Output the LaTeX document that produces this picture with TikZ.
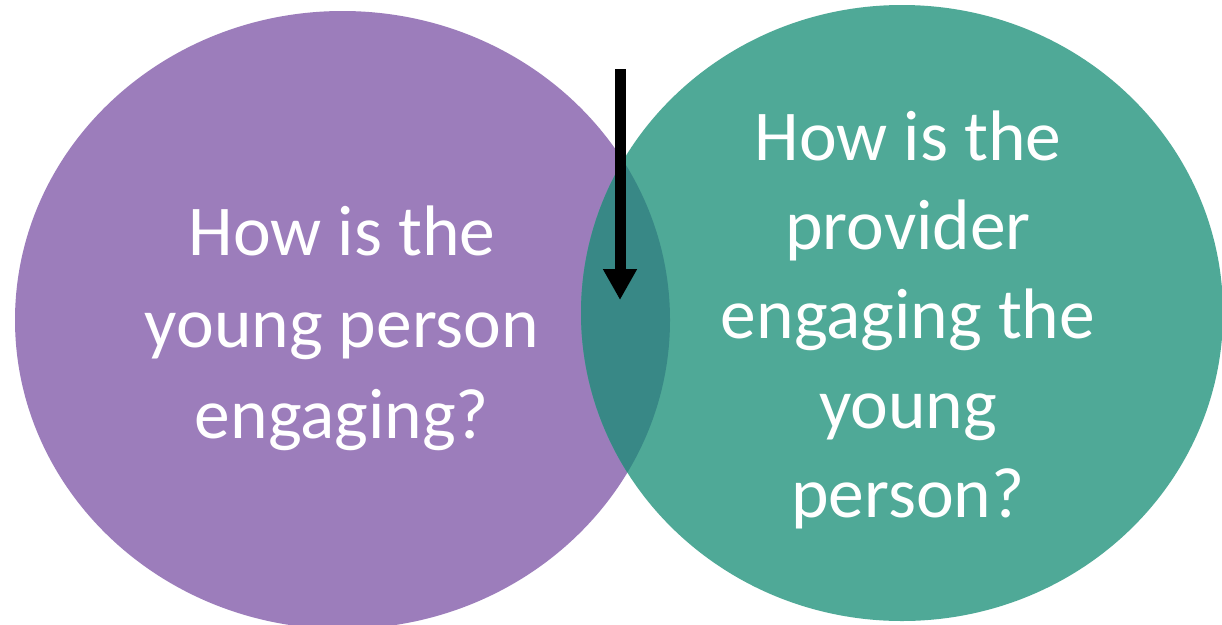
\documentclass[tikz,border=0pt]{standalone}
\usepackage{fontspec}
\setmainfont{Carlito}
\usetikzlibrary{arrows.meta}
\definecolor{vpurple}{HTML}{9C7DBB}
\definecolor{vteal}{HTML}{4FA997}
\definecolor{voverlap}{HTML}{388886}
\tikzset{
  label text/.style={text=white, font=\fontsize{71.5}{90}\selectfont, anchor=base, inner sep=0pt},
  arrow shaft/.style={line width=11pt, -{Triangle[width=32pt,length=31pt]}}
}
\begin{document}
\begin{tikzpicture}[x=1pt,y=-1pt]
\useasboundingbox (0,0) rectangle (1222,624);
\fill[white] (0,0) rectangle (1222,624);
% circles
\fill[vpurple] (342.5,320) ellipse [x radius=327.5, y radius=309];
\fill[vteal] (902,313) ellipse [x radius=321, y radius=308];
\begin{scope}
  \clip (342.5,320) ellipse [x radius=327.5, y radius=309];
  \fill[voverlap] (902,313) ellipse [x radius=321, y radius=308];
\end{scope}
% left text
\node[label text] (l1) at (342,255) {How is the};
\node[label text] (l2) at (342,347) {young person};
\node[label text] (l3) at (342,438) {engaging?};
% right text
\node[label text] (r1) at (908,160) {How is the};
\node[label text] (r2) at (908,249) {provider};
\node[label text] (r3) at (908,338) {engaging the};
\node[label text] (r4) at (908,428) {young};
\node[label text] (r5) at (908,517) {person?};
% arrow
\coordinate (atop) at (620,69);
\coordinate (atip) at (620,300);
\draw[arrow shaft] (atop) -- (atip);
\end{tikzpicture}
\end{document}
